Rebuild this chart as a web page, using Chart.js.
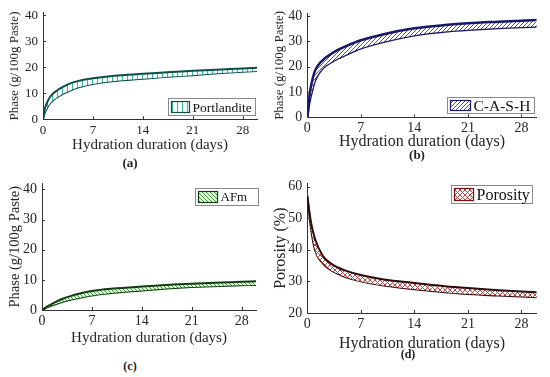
<!DOCTYPE html>
<html>
<head>
<meta charset="utf-8">
<script src="https://cdn.jsdelivr.net/npm/chart.js@4.4.1/dist/chart.umd.min.js"></script>
<style>
  body { margin: 0; background: #fff; width: 550px; height: 377px; position: relative; overflow: hidden; font-family: "Liberation Serif", serif; }
  canvas { position: absolute; }
  .tag { position: absolute; font-weight: bold; color: #222; transform: translate(-50%, -50%); white-space: nowrap; }
</style>
</head>
<body>
<canvas id="chartA" width="275" height="154" style="left:0;top:0"></canvas>
<canvas id="chartB" width="280" height="151" style="left:270px;top:0"></canvas>
<canvas id="chartC" width="275" height="177" style="left:0;top:170px"></canvas>
<canvas id="chartD" width="280" height="183" style="left:270px;top:170px"></canvas>
<div class="tag" style="left:130px;top:163px;font-size:13px">(a)</div>
<div class="tag" style="left:417px;top:155px;font-size:13px">(b)</div>
<div class="tag" style="left:130px;top:366px;font-size:12px">(c)</div>
<div class="tag" style="left:408px;top:354px;font-size:12px">(d)</div>
<script>
// hydration days and the two bounding curves of each band
const days = [0, 0.25, 0.5, 1, 2, 3, 4, 5, 7, 10, 14, 18, 21, 25, 28, 30];
const portlanditeHigh = [0, 4, 6, 8.7, 11.2, 12.8, 14, 14.8, 15.8, 16.8, 17.5, 18.2, 18.7, 19.2, 19.6, 19.8];
const portlanditeLow = [0, 2.5, 4, 6.2, 8.5, 10.1, 11.3, 12.3, 13.6, 14.7, 15.6, 16.5, 17.0, 17.8, 18.3, 18.6];
const cashHigh = [0, 8, 12.5, 18.3, 22.5, 24.8, 26.6, 28.0, 30.4, 32.8, 35.1, 36.4, 37.1, 37.7, 38.1, 38.4];
const cashLow = [0, 5.5, 9, 14.5, 19.3, 21.5, 23.2, 24.6, 27.2, 29.8, 32.4, 33.9, 34.5, 35.2, 35.6, 35.8];
const afmHigh = [0, 0.4, 0.8, 1.5, 2.8, 3.8, 4.6, 5.3, 6.3, 7.1, 7.8, 8.4, 8.7, 9.1, 9.4, 9.5];
const afmLow = [0, 0.3, 0.6, 1.1, 2.0, 2.8, 3.4, 3.9, 4.8, 5.7, 6.5, 7.2, 7.6, 8.0, 8.2, 8.3];
const porosityHigh = [57, 52.5, 48.5, 43.5, 38.2, 35.8, 34.4, 33.4, 32.0, 30.6, 29.5, 28.5, 27.9, 27.2, 26.8, 26.6];
const porosityLow = [57, 51.5, 46.5, 40, 35.8, 33.7, 32.4, 31.4, 30.0, 28.7, 27.5, 26.6, 26.0, 25.5, 25.2, 25.0];

const xTicks = [0, 7, 14, 21, 28];
const phaseTicks = [0, 10, 20, 30, 40];
const porosityTicks = [20, 30, 40, 50, 60];

const FONT = '"Liberation Serif", "Times New Roman", serif';

const makeHatch = (kind, color, bg, gap) => {
  const c = document.createElement("canvas");
  c.width = gap;
  c.height = gap;
  const g = c.getContext("2d");
  if (bg) {
    g.fillStyle = bg;
    g.fillRect(0, 0, gap, gap);
  }
  g.strokeStyle = color;
  g.lineWidth = 1;
  g.beginPath();
  if (kind === "vertical") {
    g.moveTo(gap / 2, 0);
    g.lineTo(gap / 2, gap);
  }
  [-gap, 0, gap].forEach((k) => {
    if (kind === "up" || kind === "cross") {
      g.moveTo(k, gap);
      g.lineTo(k + gap, 0);
    }
    if (kind === "down" || kind === "cross") {
      g.moveTo(k, 0);
      g.lineTo(k + gap, gap);
    }
  });
  g.stroke();
  return g.createPattern(c, "repeat");
};

const innerTicks = {
  id: "innerTicks",
  afterDraw(chart) {
    const { ctx, chartArea, scales } = chart;
    ctx.save();
    ctx.strokeStyle = "#333";
    ctx.lineWidth = 1;
    ctx.beginPath();
    scales.x.ticks.forEach((t) => {
      const px = Math.round(scales.x.getPixelForValue(t.value)) + 0.5;
      ctx.moveTo(px, chartArea.bottom);
      ctx.lineTo(px, chartArea.bottom - 3);
    });
    scales.y.ticks.forEach((t) => {
      const py = Math.round(scales.y.getPixelForValue(t.value)) + 0.5;
      ctx.moveTo(chartArea.left, py);
      ctx.lineTo(chartArea.left + 3, py);
    });
    ctx.stroke();
    ctx.restore();
  },
};

const hatchLegend = {
  id: "hatchLegend",
  afterDraw(chart, args, opts) {
    if (!opts.text) return;
    const { ctx, chartArea } = chart;
    ctx.save();
    ctx.font = `${opts.size}px ${FONT}`;
    const tw = ctx.measureText(opts.text).width;
    const w = Math.round(opts.swatchW + tw + 6 + opts.padR);
    const h = opts.h;
    const x = Math.round(chartArea.right - opts.dx - w) + 0.5;
    const y = Math.round(opts.top ? chartArea.top + opts.dy : chartArea.bottom - opts.dy - h) + 0.5;
    ctx.fillStyle = "#fff";
    ctx.fillRect(x, y, w, h);
    ctx.strokeStyle = "#8a8a8a";
    ctx.lineWidth = 1;
    ctx.strokeRect(x, y, w, h);
    const sx = x + 3, sy = y + 3, sh = h - 6;
    ctx.fillStyle = opts.pattern;
    ctx.fillRect(sx, sy, opts.swatchW, sh);
    ctx.strokeStyle = opts.edge;
    ctx.lineWidth = 1.2;
    ctx.strokeRect(sx, sy, opts.swatchW, sh);
    ctx.fillStyle = "#111";
    ctx.textBaseline = "middle";
    ctx.fillText(opts.text, sx + opts.swatchW + 3, y + h / 2 + 1);
    ctx.restore();
  },
};

const makePanel = (id, p) => {
  const pts = (arr) => days.map((d, i) => ({ x: d, y: arr[i] }));
  new Chart(document.getElementById(id), {
    type: "line",
    data: {
      datasets: [
        { data: pts(p.high), borderColor: p.line, borderWidth: p.lw, fill: "+1", backgroundColor: p.pattern },
        { data: pts(p.low), borderColor: p.line, borderWidth: p.lw, fill: false },
      ],
    },
    options: {
      responsive: false,
      animation: false,
      layout: { padding: { top: p.T, right: p.R, left: 0, bottom: 0 } },
      elements: { point: { radius: 0 }, line: { cubicInterpolationMode: "monotone" } },
      plugins: {
        legend: { display: false },
        tooltip: { enabled: false },
        hatchLegend: p.legend,
      },
      scales: {
        x: {
          type: "linear",
          min: 0,
          max: 30,
          afterBuildTicks: (s) => { s.ticks = xTicks.map((v) => ({ value: v })); },
          afterFit: (s) => { s.height = p.B; },
          grid: { display: false, drawTicks: false },
          border: { display: true, color: "#333", width: 1 },
          ticks: { padding: 3, color: "#262626", font: { family: FONT, size: p.tickSize } },
          title: { display: true, text: "Hydration duration (days)", color: "#262626", padding: { top: 0, bottom: 0 }, font: { family: FONT, size: p.xTitleSize, lineHeight: 1.2 } },
        },
        y: {
          min: p.yMin,
          max: p.yMax,
          afterBuildTicks: (s) => { s.ticks = p.yTicks.map((v) => ({ value: v })); },
          afterFit: (s) => { s.width = p.L; },
          grid: { display: false, drawTicks: false },
          border: { display: true, color: "#333", width: 1 },
          ticks: { padding: 5, color: "#262626", font: { family: FONT, size: p.tickSize } },
          title: { display: true, text: p.yTitle, color: "#262626", padding: { top: p.yTitlePad, bottom: 0 }, font: { family: FONT, size: p.yTitleSize, lineHeight: 1.2 } },
        },
      },
    },
    plugins: [innerTicks, hatchLegend],
  });
};

window.addEventListener("DOMContentLoaded", () => {
  const patA = makeHatch("vertical", "#3fb3a8", "#f4fcfb", 5);
  const patB = makeHatch("up", "#4a50c8", "#ffffff", 4);
  const patC = makeHatch("down", "#3f9a3a", "#eef8e6", 4);
  const patD = makeHatch("cross", "#c84040", "#ffffff", 5);

  makePanel("chartA", {
    high: portlanditeHigh, low: portlanditeLow, line: "#0b4f46", lw: 2, pattern: patA,
    yMin: 0, yMax: 41, yTicks: phaseTicks, yTitle: "Phase (g/100g Paste)",
    L: 43, R: 18, T: 12, B: 34.7, tickSize: 13, xTitleSize: 15, yTitleSize: 13, yTitlePad: 7,
    legend: { text: "Portlandite", size: 13.5, swatchW: 18, h: 17, dx: 2, dy: 4, top: false, padR: 4, pattern: patA, edge: "#0b4f46" },
  });
  makePanel("chartB", {
    high: cashHigh, low: cashLow, line: "#17176b", lw: 2.5, pattern: patB,
    yMin: 0, yMax: 41, yTicks: phaseTicks, yTitle: "Phase (g/100g Paste)",
    L: 37.3, R: 13.3, T: 11.5, B: 33.7, tickSize: 14, xTitleSize: 16, yTitleSize: 13, yTitlePad: 2,
    legend: { text: "C-A-S-H", size: 15.5, swatchW: 20, h: 16, dx: 2.7, dy: 4.6, top: false, padR: 4, pattern: patB, edge: "#17176b" },
  });
  makePanel("chartC", {
    high: afmHigh, low: afmLow, line: "#0f3a12", lw: 2, pattern: patC,
    yMin: 0, yMax: 42, yTicks: phaseTicks, yTitle: "Phase (g/100g Paste)",
    L: 42, R: 19, T: 11.5, B: 37, tickSize: 14, xTitleSize: 15, yTitleSize: 14.5, yTitlePad: 6,
    legend: { text: "AFm", size: 13, swatchW: 19, h: 17, dx: -2, dy: 4.5, top: true, padR: 11, pattern: patC, edge: "#0f3a12" },
  });
  makePanel("chartD", {
    high: porosityHigh, low: porosityLow, line: "#2b0c0c", lw: 2, pattern: patD,
    yMin: 20, yMax: 61, yTicks: porosityTicks, yTitle: "Porosity (%)",
    L: 37.3, R: 13.3, T: 8.7, B: 40, tickSize: 14, xTitleSize: 16, yTitleSize: 16, yTitlePad: 1.4,
    legend: { text: "Porosity", size: 16, swatchW: 19, h: 18, dx: 4.7, dy: 1.3, top: true, padR: 3, pattern: patD, edge: "#7a1010" },
  });
});
</script>
</body>
</html>
